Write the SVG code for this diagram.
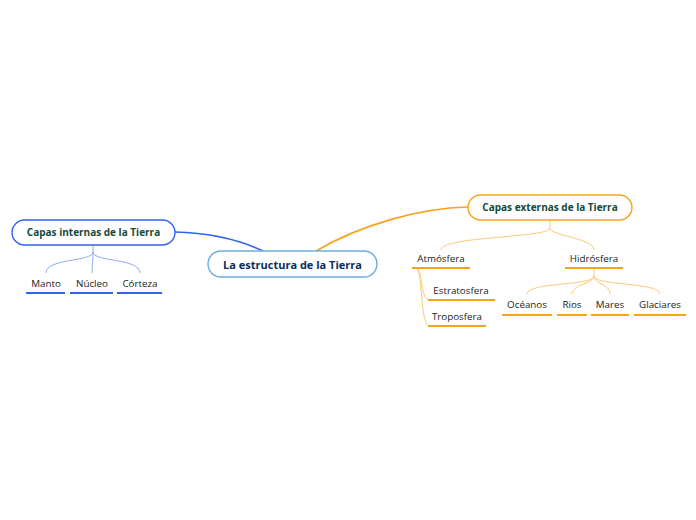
<svg xmlns="http://www.w3.org/2000/svg" width="696" height="520" viewBox="0 0 696 520">
<style>
.node{fill:#fff;stroke-width:1.4}
.main{font-family:"Open Sans","Noto Sans",sans-serif;font-weight:bold;font-size:11px;text-anchor:middle}
.sub{font-family:"Open Sans","Noto Sans",sans-serif;font-weight:bold;font-size:10px;text-anchor:middle;fill:#14493a}
.leaf{font-family:"Open Sans","Noto Sans",sans-serif;font-size:9.8px;fill:#222;text-anchor:middle}
.ub{stroke:#2f63f0;stroke-width:2}
.uo{stroke:#f7a21b;stroke-width:2}
.tb{fill:none;stroke:#8ea9f5;stroke-width:1}
.to{fill:none;stroke:#fcc97a;stroke-width:1}
</style>
<rect width="696" height="520" fill="#fff"/>
<g id="connectors">
<path d="M263,251 C240,240 210,233 175,232" fill="none" stroke="#2f63f0" stroke-width="1.6"/>
<path d="M316,251 C360,225 420,208 468,207" fill="none" stroke="#f7a21b" stroke-width="1.6"/>
<path class="tb" d="M93,245 L93,252 C93,262 46,258 46,273 M93,252 C93,260 92,265 92,273 M93,252 C93,262 140,258 140,273"/>
<path class="to" d="M550,220 L550,228 C550,238 441,236 441,250 M550,228 C550,236 594,238 594,250"/>
<path class="to" d="M417,268 C423,272 420,300 430,300 M417,268 C423,276 420,326 430,326"/>
<path class="to" d="M594,268 L594,276 C594,286 527,282 527,294 M594,276 C594,284 572,284 572,294 M594,276 C594,284 610,284 610,294 M594,276 C594,286 660,282 660,294"/>
</g>
<g id="central">
<rect class="node" x="208" y="251" width="169" height="26" rx="13" stroke="#6aaee0"/>
<text class="main" x="292.5" y="268.5" fill="#0c2b5a">La estructura de la Tierra</text>
</g>
<g id="internas">
<rect class="node" x="12" y="220" width="163" height="25" rx="12.5" stroke="#2f63f0"/>
<text class="sub" x="93.5" y="236">Capas internas de la Tierra</text>
</g>
<g id="externas">
<rect class="node" x="468" y="195" width="164" height="25" rx="12.5" stroke="#f7a21b"/>
<text class="sub" x="550" y="211">Capas externas de la Tierra</text>
</g>
<g id="manto"><text class="leaf" x="46" y="287">Manto</text><line class="ub" x1="26" y1="293" x2="65" y2="293"/></g>
<g id="nucleo"><text class="leaf" x="92" y="287">Núcleo</text><line class="ub" x1="70" y1="293" x2="113" y2="293"/></g>
<g id="corteza"><text class="leaf" x="140" y="287">Córteza</text><line class="ub" x1="117" y1="293" x2="162" y2="293"/></g>
<g id="atmosfera"><text class="leaf" x="441" y="262">Atmósfera</text><line class="uo" x1="412" y1="268" x2="470" y2="268"/></g>
<g id="hidrosfera"><text class="leaf" x="594" y="262">Hidrósfera</text><line class="uo" x1="565" y1="268" x2="623" y2="268"/></g>
<g id="estratosfera"><text class="leaf" x="461" y="294">Estratosfera</text><line class="uo" x1="428" y1="300" x2="495" y2="300"/></g>
<g id="troposfera"><text class="leaf" x="457" y="320">Troposfera</text><line class="uo" x1="428" y1="326" x2="486" y2="326"/></g>
<g id="oceanos"><text class="leaf" x="527" y="308">Océanos</text><line class="uo" x1="502" y1="315" x2="552" y2="315"/></g>
<g id="rios"><text class="leaf" x="572" y="308">Rios</text><line class="uo" x1="557" y1="315" x2="587" y2="315"/></g>
<g id="mares"><text class="leaf" x="610" y="308">Mares</text><line class="uo" x1="591" y1="315" x2="629" y2="315"/></g>
<g id="glaciares"><text class="leaf" x="660" y="308">Glaciares</text><line class="uo" x1="634" y1="315" x2="686" y2="315"/></g>
</svg>
